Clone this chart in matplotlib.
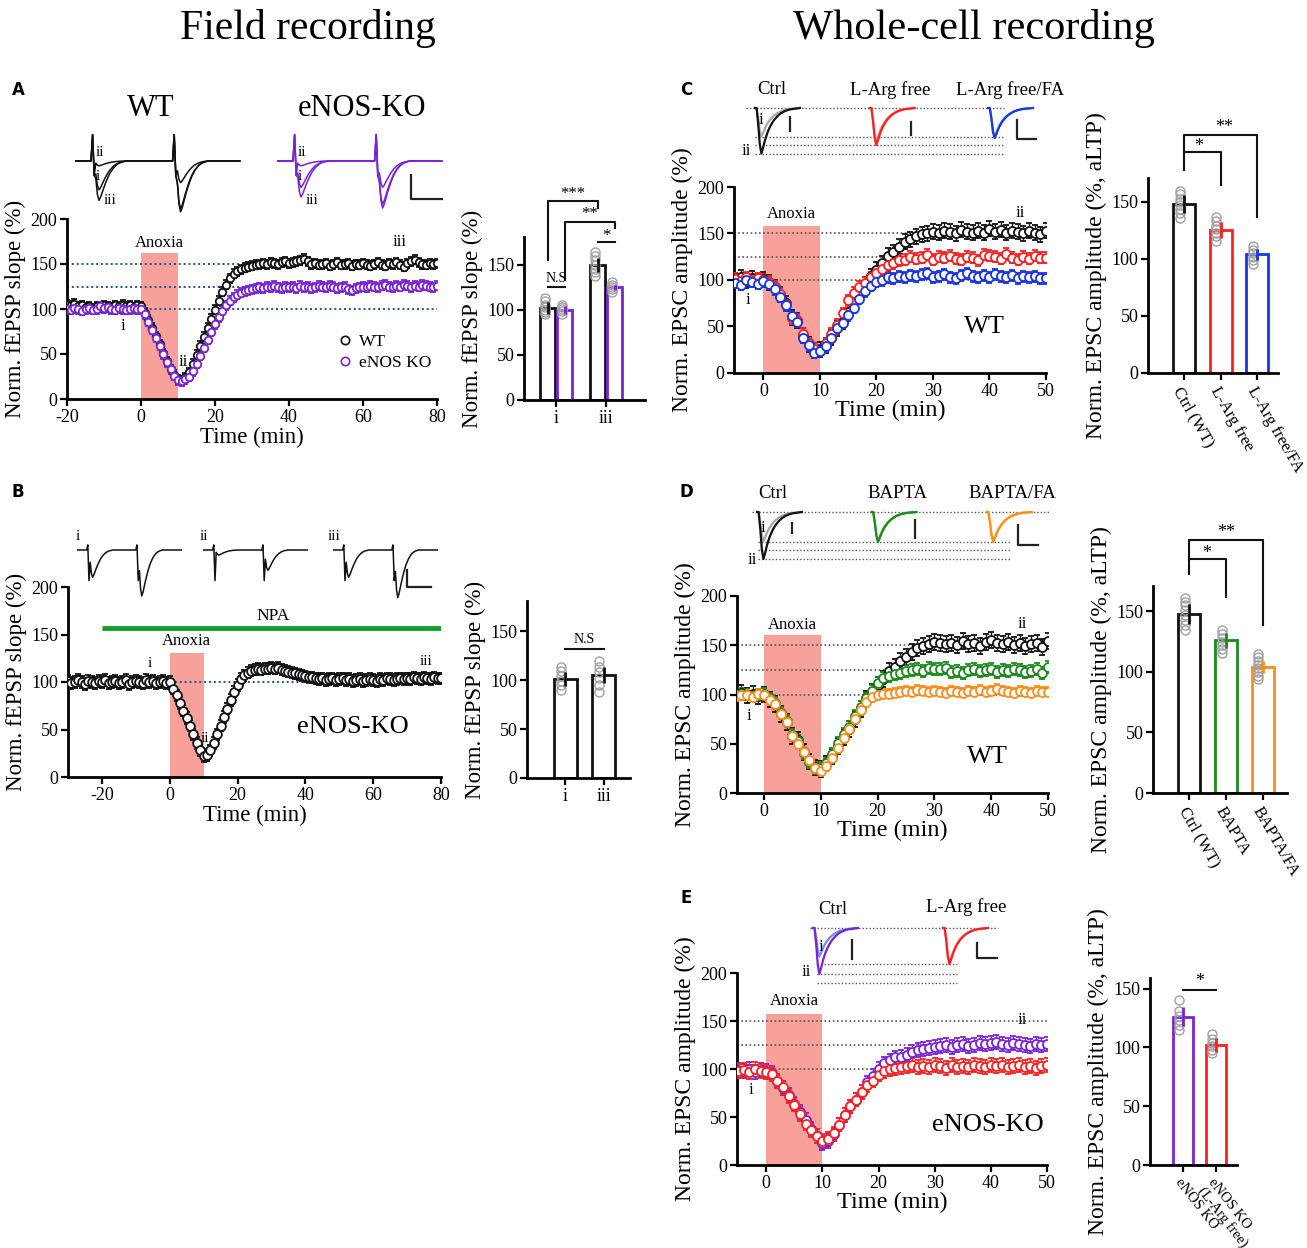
import numpy as np
import matplotlib
matplotlib.use("Agg")
import matplotlib.pyplot as plt
from matplotlib.lines import Line2D

plt.rcParams['font.family'] = ['Liberation Serif', 'DejaVu Serif']
plt.rcParams['axes.unicode_minus'] = False

W, H = 1307, 1248

# ---------------- data ----------------
# panel A time course (norm. fEPSP slope, %), one point per minute
time_A = np.arange(-20, 81)
wt_A = [105, 104, 106, 103, 104, 102, 103, 101, 103, 102,
        104, 103, 102, 104, 103, 105, 103, 104, 102, 104,
        103, 96, 88, 79, 70, 61, 51, 42, 33, 27,
        22, 21, 24, 30, 39, 49, 59, 69, 79, 89,
        99, 109, 119, 127, 134, 139, 142, 144, 146, 147,
        148, 149, 150, 151, 150, 152, 151, 150, 152, 153,
        151, 152, 153, 154, 156, 153, 150, 151, 149, 150,
        151, 148, 150, 152, 149, 150, 151, 148, 150, 149,
        151, 149, 148, 150, 152, 149, 148, 151, 150, 152,
        149, 147, 151, 153, 155, 152, 150, 149, 151, 150,
        151]
ko_A = [100, 99, 101, 100, 98, 100, 101, 99, 100, 103,
        101, 102, 100, 99, 101, 100, 99, 100, 101, 100,
        100, 94, 86, 77, 68, 59, 50, 41, 33, 26,
        21, 20, 22, 25, 31, 39, 48, 57, 66, 75,
        83, 91, 98, 104, 109, 113, 116, 118, 120, 121,
        122, 123, 124, 123, 125, 124, 126, 124, 123, 125,
        124, 125, 123, 126, 124, 125, 123, 124, 126, 125,
        124, 126, 125, 123, 124, 125, 122, 121, 123, 124,
        125, 124, 126, 125, 124, 126, 127, 125, 124, 126,
        125, 127, 126, 124, 126, 125, 127, 126, 125, 124,
        126]
err_A = [5, 5]

# panel B time course (eNOS-KO + NPA)
time_B = np.arange(-30, 81)
npa_B = [101, 99, 100, 102, 100, 98, 101, 100, 99, 101,
         100, 102, 99, 100, 101, 99, 100, 102, 98, 100,
         101, 100, 99, 102, 100, 101, 99, 100, 101, 99,
         100, 93, 86, 78, 70, 62, 54, 45, 36, 28,
         22, 23, 28, 36, 45, 54, 63, 72, 81, 90,
         97, 103, 107, 110, 112, 113, 114, 113, 114, 114,
         115, 114, 115, 113, 112, 111, 110, 109, 108, 107,
         106, 105, 105, 104, 103, 104, 102, 103, 104, 102,
         103, 104, 102, 103, 101, 102, 103, 101, 102, 103,
         102, 101, 103, 102, 104, 103, 102, 103, 104, 103,
         104, 103, 105, 104, 103, 105, 104, 103, 105, 104,
         104]
err_B = 6

# whole-cell time courses (norm. EPSC amplitude, %)
time_W = np.arange(-5, 51)
ctrl_C = [100, 103, 99, 102, 100, 101,
          97, 92, 84, 75, 60, 56, 40, 31, 24, 25,
          30, 38, 48, 55, 66, 76, 85, 95, 104, 111,
          118, 126, 130, 136, 141, 144, 147, 149, 150, 152,
          151, 153, 152, 150, 154, 152, 151, 153, 151, 155,
          152, 154, 151, 153, 152, 150, 153, 151, 149, 153]
larg_C = [101, 99, 103, 100, 102, 100,
          98, 93, 85, 74, 59, 57, 42, 32, 26, 24,
          32, 42, 52, 64, 78, 86, 93, 97, 103, 108,
          112, 116, 118, 121, 122, 125, 123, 124, 127, 122,
          125, 124, 126, 123, 122, 125, 124, 121, 127, 126,
          125, 123, 128, 124, 122, 125, 123, 126, 124, 124]
fa_C = [97, 95, 100, 98, 96, 99,
        96, 90, 82, 73, 61, 55, 38, 30, 22, 24,
        29, 38, 48, 54, 62, 70, 80, 88, 94, 98,
        100, 103, 102, 104, 103, 105, 104, 106, 107, 103,
        104, 106, 103, 102, 105, 107, 104, 103, 105, 103,
        106, 104, 103, 105, 102, 104, 103, 104, 102, 102]
err_C = [8, 6, 6]

ctrl_D = [100, 102, 99, 101, 98, 100,
          95, 90, 80, 72, 58, 54, 42, 32, 26, 24,
          30, 37, 48, 57, 65, 75, 85, 96, 103, 110,
          116, 124, 128, 134, 138, 143, 147, 149, 151, 153,
          152, 151, 152, 150, 154, 151, 152, 149, 153, 155,
          152, 151, 153, 150, 152, 149, 151, 152, 148, 154]
bapta_D = [99, 101, 100, 98, 100, 101,
           96, 91, 81, 73, 59, 53, 41, 31, 25, 25,
           30, 40, 51, 60, 67, 78, 87, 96, 104, 112,
           117, 119, 121, 122, 124, 125, 126, 124, 127, 126,
           126, 127, 123, 124, 122, 125, 126, 124, 125, 126,
           123, 125, 124, 126, 125, 123, 124, 126, 122, 128]
fa_D = [98, 99, 100, 97, 101, 99,
        94, 90, 80, 72, 58, 50, 42, 33, 25, 22,
        27, 36, 46, 56, 65, 75, 84, 92, 97, 100,
        101, 101, 102, 103, 104, 103, 105, 104, 103, 104,
        103, 102, 104, 103, 102, 104, 103, 105, 103, 104,
        106, 104, 103, 102, 104, 103, 102, 104, 103, 103]
err_D = [8, 6, 5]

ko_E = [99, 98, 100, 97, 99, 98,
        96, 88, 80, 73, 64, 55, 47, 38, 30, 23,
        25, 32, 42, 52, 61, 68, 76, 86, 93, 100,
        106, 109, 112, 113, 115, 118, 120, 121, 122, 123,
        124, 125, 123, 125, 126, 124, 125, 127, 126, 127,
        128, 126, 125, 127, 126, 125, 124, 126, 125, 126]
larg_E = [98, 99, 97, 100, 98, 97,
          95, 87, 81, 72, 63, 53, 43, 36, 30, 25,
          27, 33, 42, 52, 61, 68, 76, 83, 88, 94,
          98, 100, 101, 102, 103, 104, 102, 103, 102, 104,
          103, 101, 104, 102, 103, 102, 104, 103, 102, 104,
          103, 104, 102, 103, 104, 102, 103, 101, 103, 104]
err_E = [7, 7]

# bar summaries: means, SEM, individual slices
bar_A_means = [102, 100, 150, 125]
bar_A_sem = [7, 4, 8, 3]
bar_A_pts = [[95, 98, 100, 103, 106, 110, 113], [96, 99, 101, 103, 105],
             [138, 142, 146, 150, 155, 160, 164], [120, 123, 125, 128, 131]]
bar_A_labels = ['i', 'iii']

bar_B_means = [101, 105]
bar_B_sem = [7, 8]
bar_B_pts = [[90, 95, 99, 104, 109, 113], [88, 95, 102, 108, 114, 120]]
bar_B_labels = ['i', 'iii']

bar_C_means = [148, 125, 104]
bar_C_sem = [8, 7, 5]
bar_C_pts = [[136, 140, 144, 147, 150, 153, 157, 160], [116, 120, 123, 126, 129, 133, 137],
             [96, 99, 102, 105, 108, 111]]
bar_C_labels = ['Ctrl (WT)', 'L-Arg free', 'L-Arg free/FA']

bar_D_means = [148, 126, 104]
bar_D_sem = [8, 6, 5]
bar_D_pts = [[135, 139, 143, 147, 151, 155, 158, 161], [116, 119, 122, 125, 128, 131, 135],
             [94, 97, 100, 103, 106, 109, 112, 115]]
bar_D_labels = ['Ctrl (WT)', 'BAPTA', 'BAPTA/FA']

bar_E_means = [126, 102]
bar_E_sem = [8, 6]
bar_E_pts = [[115, 119, 123, 127, 131, 140], [95, 98, 101, 104, 107, 111]]
bar_E_labels = ['eNOS KO', 'eNOS KO\n(L-Arg free)']

# example traces: normalised waveform shapes (1 sample per ms) and peak amplitudes
FIELD_SHAPE = [-0.45, -0.85, -1.0, -0.92, -0.8, -0.68, -0.57, -0.47, -0.38, -0.3,
               -0.24, -0.18, -0.14, -0.1, -0.07, -0.05, -0.03, -0.02, -0.01, 0.0]
EPSC_SHAPE = [-0.35, -0.8, -1.0, -0.88, -0.74, -0.62, -0.52, -0.44, -0.37, -0.31,
              -0.26, -0.22, -0.18, -0.15, -0.12, -0.1, -0.08, -0.065, -0.05, -0.04,
              -0.03, -0.025, -0.02, -0.015, -0.01, -0.005, 0.0]
fld_A_wt = {'ii': (0.1, 0.45), 'i': (0.6, 1.0), 'iii': (0.82, 1.06)}   # mV, pulse 1 / pulse 2
fld_A_ko = {'ii': (0.1, 0.55), 'i': (0.55, 0.9), 'iii': (0.75, 0.98)}
fld_B = {'i': (0.8, 1.35), 'ii': (0.15, 0.6), 'iii': (0.8, 1.4)}
epsc_C = [(150, 240), (175, 195), (150, 158)]   # pA: trace i / trace ii
epsc_D = [(153, 247), (150, 158), (150, 158)]
epsc_E = [(150, 242), (180, 190)]
levels_C = [150, 195, 240]
levels_D = [158, 200, 247]
levels_E = [190, 242, 290]

# ---------------- styling ----------------
BLACK = '#111111'
PURPLE = '#7b22d8'
RED = '#ff1f1f'
BLUE = '#1a35e6'
GREEN = '#1d8a1d'
ORANGE = '#ff8c1a'
ANOXIA = '#f8a19b'
DOT_BLUE = '#1f4fa0'
DOT_GRAY = '#555555'

fig = plt.figure(figsize=(W / 100, H / 100), dpi=100)


def px_axes(x0, y0, x1, y1):
    return fig.add_axes([x0 / W, 1 - y1 / H, (x1 - x0) / W, (y1 - y0) / H])


def label(x, y, s, size=12, **kw):
    kw.setdefault('ha', 'center')
    kw.setdefault('va', 'center')
    fig.text(x / W, 1 - y / H, s, fontsize=size, **kw)


def style(ax):
    for s in ['top', 'right']:
        ax.spines[s].set_visible(False)
    for s in ['left', 'bottom']:
        ax.spines[s].set_linewidth(2)
    ax.tick_params(width=1.6, length=5, labelsize=13, pad=2)


def course(ax, t, series, colors, errs, ms):
    for y, c, e in zip(series, colors, errs):
        ax.errorbar(t, y, yerr=e, fmt='o', ms=ms, mfc='white', mec=c, mew=1.3,
                    ecolor=c, elinewidth=1, capsize=2.2, capthick=1, zorder=3)


def anoxia(ax, top, ytext):
    ax.fill_between([0, 10], 0, top, color=ANOXIA, lw=0, zorder=1)
    ax.text(5, ytext, 'Anoxia', ha='center', va='center', fontsize=12)


def bars(ax, pos, means, sems, colors, pts, width, ymax):
    ax.bar(pos, means, width, facecolor='white', edgecolor=colors, lw=2, zorder=2)
    for x, p in zip(pos, pts):
        ax.plot([x - width * 0.2] * len(p), p, 'o', mfc='none', mec='#a0a0a0',
                ms=6.5, mew=1, zorder=3)
    ax.errorbar(pos, means, yerr=sems, fmt='none', ecolor=colors, elinewidth=2,
                capsize=0, zorder=4)
    ax.set_ylim(0, ymax)
    ax.set_yticks([0, 50, 100, 150])


def bracket(ax, xs, ys):
    ax.plot(xs, ys, color=BLACK, lw=1.5, clip_on=False)


def inset(x0, y0, x1, y1, yb, sx, sy):
    ax = px_axes(x0, y0, x1, y1)
    ax.set_xlim(0, (x1 - x0) / sx)
    ax.set_ylim(-(y1 - yb) / sy, (yb - y0) / sy)
    ax.axis('off')
    return ax


def field_trace(a1, a2, art, lead, gap, tail):
    seg1 = art + [a1 * v for v in FIELD_SHAPE]
    seg2 = art + [a2 * v for v in FIELD_SHAPE]
    y = [0.0] * lead + seg1 + [0.0] * gap + seg2 + [0.0] * tail
    return np.arange(len(y)), np.array(y)


def epsc(ax, start, amp, color, lw):
    y = np.array([0.0, 0.0] + [amp * v for v in EPSC_SHAPE])
    ax.plot(start + np.arange(len(y)), y, color=color, lw=lw)


def scalebar(ax, x, y, h, w):
    ax.plot([x, x, x + w], [y + h, y, y], color='#222222', lw=1.6)


def hdot(ax, x0, x1, y):
    ax.plot([x0, x1], [y, y], ls=(0, (1, 1.5)), color=DOT_GRAY, lw=1)


# ---------------- titles / letters ----------------
label(308, 28, 'Field recording', size=30)
label(974, 28, 'Whole-cell recording', size=30.5)
for ch, x, y in [('A', 18, 90), ('B', 18, 492), ('C', 686, 90), ('D', 686, 492), ('E', 686, 898)]:
    label(x, y, ch, size=12, family='DejaVu Sans', weight='bold')

# ---------------- panel A ----------------
ax = px_axes(67, 219, 437, 399)
style(ax)
anoxia(ax, 162, 173)
for lv in [150, 125, 100]:
    ax.axhline(lv, ls=(0, (1, 1.5)), color=DOT_BLUE, lw=1.4, zorder=2)
course(ax, time_A, [wt_A, ko_A], [BLACK, PURPLE], err_A, 5.4)
ax.set_xlim(-20, 80)
ax.set_ylim(0, 200)
ax.set_xticks([-20, 0, 20, 40, 60, 80])
ax.set_yticks([0, 50, 100, 150, 200])
ax.set_xlabel('Time (min)', fontsize=16.5, labelpad=1)
ax.set_ylabel('Norm. fEPSP slope (%)', fontsize=16.5, labelpad=3)
ax.text(-4.9, 81, 'i', ha='center', va='center', fontsize=12)
ax.text(11.5, 41, 'ii', ha='center', va='center', fontsize=12)
ax.text(70, 175, 'iii', ha='center', va='center', fontsize=12)
hnd = [Line2D([], [], marker='o', ls='none', mfc='white', mec=c, ms=6, mew=1.2)
       for c in [BLACK, PURPLE]]
ax.legend(hnd, ['WT', 'eNOS KO'], loc='upper left', bbox_to_anchor=(0.71, 0.40),
          frameon=False, fontsize=12.5, handletextpad=0.3, labelspacing=0.25,
          borderaxespad=0, handlelength=1)

label(151, 108, 'WT', size=22)
label(362, 108, 'eNOS-KO', size=22)
for (x0, amps, col) in [(75, fld_A_wt, BLACK), (277, fld_A_ko, PURPLE)]:
    ia = inset(x0, 128, x0 + 166, 218, 161, 1.6, 48)
    for k in ['iii', 'i', 'ii']:
        t, y = field_trace(amps[k][0], amps[k][1], [0.55, -0.3], 11, 29, 20)
        ia.plot(t, y, color=col, lw=1.1)
    label(x0 + 25, 152, 'ii', size=11)
    label(x0 + 23, 177, 'i', size=11)
    label(x0 + 35, 201, 'iii', size=11)
scalebar(ia, 84, -0.79, 0.5, 20)

ax = px_axes(524, 237, 645, 400)
style(ax)
bars(ax, [-0.17, 0.17, 0.83, 1.17], bar_A_means, bar_A_sem,
     [BLACK, PURPLE, BLACK, PURPLE], bar_A_pts, 0.3, 181)
ax.set_xlim(-0.64, 1.78)
ax.set_xticks([0, 1])
ax.set_xticklabels(bar_A_labels, fontsize=13)
ax.set_ylabel('Norm. fEPSP slope (%)', fontsize=16.5, labelpad=3)
bracket(ax, [-0.17, -0.17, 0.83, 0.83], [155, 221, 221, 213])
bracket(ax, [0.18, 0.18, 1.18, 1.18], [133, 198, 198, 191])
bracket(ax, [0.83, 1.18], [175, 175])
bracket(ax, [-0.17, 0.17], [125, 125])
ax.text(0.33, 229, '***', ha='center', va='center', fontsize=12, clip_on=False)
ax.text(0.68, 206, '**', ha='center', va='center', fontsize=12, clip_on=False)
ax.text(1.0, 182, '*', ha='center', va='center', fontsize=12, clip_on=False)
ax.text(0.0, 135, 'N.S', ha='center', va='center', fontsize=10)

# ---------------- panel B ----------------
ax = px_axes(68, 587, 441, 777)
style(ax)
anoxia(ax, 131, 143)
ax.axhline(100, ls=(0, (1, 1.5)), color=DOT_BLUE, lw=1.4, zorder=2)
ax.plot([-20, 80], [157, 157], color='#14a02a', lw=3.5, solid_capstyle='butt')
ax.text(30.5, 170, 'NPA', ha='center', va='center', fontsize=12.5)
course(ax, time_B, [npa_B], [BLACK], [err_B], 6.3)
ax.set_xlim(-30, 80)
ax.set_ylim(0, 200)
ax.set_xticks([-20, 0, 20, 40, 60, 80])
ax.set_yticks([0, 50, 100, 150, 200])
ax.set_xlabel('Time (min)', fontsize=16.5, labelpad=1)
ax.set_ylabel('Norm. fEPSP slope (%)', fontsize=16.5, labelpad=3)
ax.text(-6, 119, 'i', ha='center', va='center', fontsize=11)
ax.text(10.5, 41, 'ii', ha='center', va='center', fontsize=11)
ax.text(75.5, 122, 'iii', ha='center', va='center', fontsize=11)
ax.text(54, 53, 'eNOS-KO', ha='center', va='center', fontsize=19)

for x0, k in [(77, 'i'), (203, 'ii'), (333, 'iii')]:
    ia = inset(x0, 536, x0 + 106, 602, 550, 1.2, 34)
    t, y = field_trace(fld_B[k][0], fld_B[k][1], [0.15, -0.9], 9, 19, 16)
    ia.plot(t, y, color=BLACK, lw=1.1)
    label(x0 + 1, 536, k, size=11)
scalebar(ia, 62, -1.09, 0.5, 20)

ax = px_axes(527, 601, 630, 778)
style(ax)
bars(ax, [0, 1], bar_B_means, bar_B_sem, [BLACK, BLACK], bar_B_pts, 0.6, 181)
ax.set_xlim(-1.0, 1.68)
ax.set_xticks([0, 1])
ax.set_xticklabels(bar_B_labels, fontsize=13)
ax.set_ylabel('Norm. fEPSP slope (%)', fontsize=16.5, labelpad=3)
bracket(ax, [0, 1], [132, 132])
ax.text(0.5, 142, 'N.S', ha='center', va='center', fontsize=10)


# ---------------- whole-cell panels ----------------
def wc_panel(box, xmin, series, colors, errs, top, txt, tag_xy, ii_y):
    ax = px_axes(*box)
    style(ax)
    anoxia(ax, top, 171)
    for lv in [150, 125, 100]:
        ax.axhline(lv, ls=(0, (1, 1.5)), color=DOT_GRAY, lw=1.2, zorder=2)
    course(ax, time_W, series, colors, errs, 6.5)
    ax.set_xlim(xmin, 50)
    ax.set_ylim(0, 200)
    ax.set_xticks([0, 10, 20, 30, 40, 50])
    ax.set_yticks([0, 50, 100, 150, 200])
    ax.set_xlabel('Time (min)', fontsize=17.5, labelpad=0)
    ax.set_ylabel('Norm. EPSC amplitude (%)', fontsize=17, labelpad=3)
    ax.text(-2.7, 78, 'i', ha='center', va='center', fontsize=12)
    ax.text(45.5, ii_y, 'ii', ha='center', va='center', fontsize=12)
    ax.text(tag_xy[0], tag_xy[1], txt, ha='center', va='center', fontsize=19)
    return ax


def wc_bars(box, pos, means, sems, colors, pts, ymax, xlim, labels, lsize, rot=-60):
    ax = px_axes(*box)
    style(ax)
    bars(ax, pos, means, sems, colors, pts, 0.6, ymax)
    ax.set_xlim(*xlim)
    ax.set_xticks(pos)
    ax.set_xticklabels(labels, rotation=rot, ha='left', va='top',
                       rotation_mode='anchor', fontsize=lsize, linespacing=1.0)
    ax.tick_params(axis='x', pad=3)
    ax.set_ylabel('Norm. EPSC amplitude (%, aLTP)', fontsize=17, labelpad=3)
    return ax


# C
wc_panel((734, 187, 1046, 373), -5.2, [ctrl_C, larg_C, fa_C], [BLACK, RED, BLUE], err_C,
         158, 'WT', (39.2, 49), 172)
ax = wc_bars((1148, 178, 1278, 373), [0, 1, 2], bar_C_means, bar_C_sem, [BLACK, RED, BLUE],
             bar_C_pts, 171, (-0.98, 2.56), bar_C_labels, 12)
bracket(ax, [0, 0, 1, 1], [178, 194, 194, 165])
bracket(ax, [0, 0, 2, 2], [194, 209, 209, 137])
ax.text(0.4, 199, '*', ha='center', va='center', fontsize=13, clip_on=False)
ax.text(1.1, 215, '**', ha='center', va='center', fontsize=13, clip_on=False)

label(772, 90, 'Ctrl', size=13.5)
label(890, 90, 'L-Arg free', size=13.5)
label(1010, 90, 'L-Arg free/FA', size=13.5)
ia = inset(745, 100, 1070, 165, 108, 1.6, 0.19)
hdot(ia, 0.6, 162, 0)
for lv in levels_C:
    hdot(ia, 6, 162, -lv)
for start, (a_i, a_ii), (c_i, c_ii) in zip([6.25, 78, 152], epsc_C,
                                          [('#a8a8a8', BLACK), ('#ff8a8a', RED), ('#4aa3ff', BLUE)]):
    epsc(ia, start, a_i, c_i, 1.6)
    epsc(ia, start, a_ii, c_ii, 1.6)
scalebar(ia, 28, -121, 74, 0)
scalebar(ia, 104, -142, 68, 0)
scalebar(ia, 170, -163, 100, 12)
label(761, 120, 'i', size=12)
label(746, 151, 'ii', size=12)

# D
wc_panel((737, 596, 1048, 793), -4.75, [ctrl_D, bapta_D, fa_D], [BLACK, GREEN, ORANGE], err_D,
         160, 'WT', (39.3, 36.5), 172)
ax = wc_bars((1153, 586, 1287, 793), [0, 1, 2], bar_D_means, bar_D_sem, [BLACK, GREEN, ORANGE],
             bar_D_pts, 171, (-0.99, 2.66), bar_D_labels, 12)
bracket(ax, [0, 0, 1, 1], [181, 193, 193, 162])
bracket(ax, [0, 0, 2, 2], [193, 209, 209, 139])
ax.text(0.48, 198, '*', ha='center', va='center', fontsize=13, clip_on=False)
ax.text(1.0, 215, '**', ha='center', va='center', fontsize=13, clip_on=False)

label(773, 493, 'Ctrl', size=13.5)
label(897, 493, 'BAPTA', size=13.5)
label(1012, 493, 'BAPTA/FA', size=13.5)
ia = inset(750, 500, 1070, 565, 512, 1.6, 0.19)
hdot(ia, 1.25, 187.5, 0)
for lv in levels_D:
    hdot(ia, 5, 162.5, -lv)
for start, (a_i, a_ii), (c_i, c_ii) in zip([4.4, 76, 148], epsc_D,
                                          [('#a8a8a8', BLACK), ('#4fcf4f', GREEN), ('#ffc04d', ORANGE)]):
    epsc(ia, start, a_i, c_i, 1.6)
    epsc(ia, start, a_ii, c_ii, 1.6)
scalebar(ia, 26, -110, 52, 0)
scalebar(ia, 103, -137, 95, 0)
scalebar(ia, 167.5, -174, 106, 12.5)
label(763, 528, 'i', size=12)
label(752, 560, 'ii', size=12)

# E
wc_panel((737, 973, 1047, 1165), -5.2, [ko_E, larg_E], [PURPLE, RED], err_E,
         157, 'eNOS-KO', (39.5, 42), 151)
ax = wc_bars((1150, 978, 1237, 1165), [0, 1], bar_E_means, bar_E_sem, [PURPLE, RED],
             bar_E_pts, 159, (-1.0, 1.64), bar_E_labels, 10.5, rot=-52)
bracket(ax, [0, 1], [149, 149])
ax.text(0.5, 156, '*', ha='center', va='center', fontsize=13, clip_on=False)

label(833, 909, 'Ctrl', size=13.5)
label(966, 907, 'L-Arg free', size=13.5)
ia = inset(800, 920, 1005, 990, 928, 1.6, 0.19)
hdot(ia, 6.25, 123.75, 0)
for lv in levels_E:
    hdot(ia, 10.6, 98, -lv)
for start, (a_i, a_ii), (c_i, c_ii) in zip([8.1, 89.4], epsc_E,
                                          [('#6f8cf0', PURPLE), ('#ff8a8a', RED)]):
    epsc(ia, start, a_i, c_i, 1.6)
    epsc(ia, start, a_ii, c_ii, 1.6)
scalebar(ia, 32.5, -163, 100, 0)
scalebar(ia, 110.6, -158, 79, 12.5)
label(821, 947, 'i', size=12)
label(806, 972, 'ii', size=12)

fig.savefig('out.png', dpi=100)
